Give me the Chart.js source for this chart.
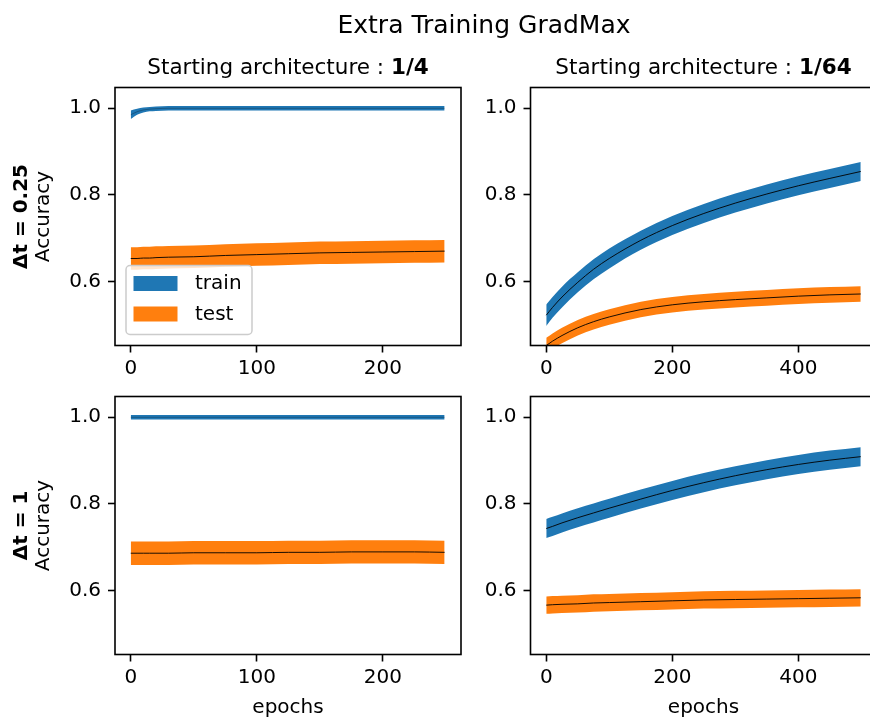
<!DOCTYPE html>
<html><head><meta charset="utf-8">
<script src="https://cdn.jsdelivr.net/npm/chart.js@4.4.0/dist/chart.umd.min.js"></script>
<style>
html,body{margin:0;padding:0;background:#fff;overflow:hidden;width:870px;height:719px;}
#wrap{position:relative;width:870px;height:719px;overflow:hidden;background:#fff;}
#wrap canvas{position:absolute;left:0;top:0;}
</style></head><body>
<div id="wrap">
<canvas id="c0" width="890" height="719"></canvas>
<canvas id="c1" width="890" height="719"></canvas>
<canvas id="c2" width="890" height="719"></canvas>
<canvas id="c3" width="890" height="719"></canvas>
</div>
<script>
// ---------- data ----------
const figureTitle = 'Extra Training GradMax';
const seriesNames = ['train', 'test'];
const columnTitlePrefix = 'Starting architecture : ';
const columnTitles = ['1/4', '1/64'];
const rowLabels = ['\u0394t = 0.25', '\u0394t = 1'];
const yAxisLabel = 'Accuracy';
const xAxisLabel = 'epochs';
const yTicks = [0.6, 0.8, 1.0];
const xTicksLeft = [0, 100, 200];
const xTicksRight = [0, 200, 400];

const epochsLeft  = [0, 5, 10, 15, 20, 30, 50, 75, 100, 125, 150, 175, 200, 225, 249];
const epochsRight = [0, 10, 25, 50, 75, 100, 150, 200, 250, 300, 350, 400, 450, 499];

// row 0 (Δt = 0.25), column 0 (1/4)
const trainMean_a   = [0.985, 0.992, 0.996, 0.998, 0.999, 1.0, 1.0, 1.0, 1.0, 1.0, 1.0, 1.0, 1.0, 1.0, 1.0];
const trainSpread_a = [0.010, 0.007, 0.006, 0.005, 0.005, 0.005, 0.005, 0.005, 0.005, 0.005, 0.005, 0.005, 0.005, 0.005, 0.005];
const testMean_a    = [0.653, 0.653, 0.654, 0.654, 0.655, 0.656, 0.657, 0.660, 0.662, 0.664, 0.666, 0.667, 0.668, 0.669, 0.670];
const testSpread_a  = [0.026, 0.026, 0.026, 0.026, 0.026, 0.026, 0.026, 0.026, 0.026, 0.026, 0.026, 0.026, 0.026, 0.026, 0.026];

// row 0 (Δt = 0.25), column 1 (1/64)
const trainMean_b   = [0.522, 0.540, 0.564, 0.598, 0.628, 0.653, 0.695, 0.729, 0.757, 0.781, 0.802, 0.821, 0.838, 0.854];
const trainSpread_b = [0.025, 0.024, 0.024, 0.023, 0.023, 0.023, 0.022, 0.022, 0.022, 0.022, 0.022, 0.022, 0.022, 0.022];
const testMean_b    = [0.452, 0.462, 0.475, 0.493, 0.507, 0.518, 0.535, 0.546, 0.553, 0.558, 0.562, 0.566, 0.569, 0.571];
const testSpread_b  = [0.018, 0.018, 0.018, 0.018, 0.018, 0.018, 0.018, 0.018, 0.018, 0.018, 0.018, 0.018, 0.018, 0.018];

// row 1 (Δt = 1), column 0 (1/4)
const trainMean_c   = [1.0, 1.0, 1.0, 1.0, 1.0, 1.0, 1.0, 1.0, 1.0, 1.0, 1.0, 1.0, 1.0, 1.0, 1.0];
const trainSpread_c = [0.005, 0.005, 0.005, 0.005, 0.005, 0.005, 0.005, 0.005, 0.005, 0.005, 0.005, 0.005, 0.005, 0.005, 0.005];
const testMean_c    = [0.686, 0.686, 0.686, 0.686, 0.686, 0.686, 0.687, 0.687, 0.687, 0.688, 0.688, 0.689, 0.689, 0.689, 0.688];
const testSpread_c  = [0.027, 0.027, 0.027, 0.027, 0.027, 0.027, 0.027, 0.027, 0.027, 0.027, 0.027, 0.027, 0.027, 0.027, 0.027];

// row 1 (Δt = 1), column 1 (1/64)
const trainMean_d   = [0.743, 0.748, 0.756, 0.768, 0.779, 0.790, 0.811, 0.831, 0.849, 0.865, 0.879, 0.891, 0.901, 0.909];
const trainSpread_d = [0.022, 0.022, 0.022, 0.022, 0.022, 0.022, 0.022, 0.022, 0.022, 0.022, 0.022, 0.022, 0.022, 0.022];
const testMean_d    = [0.566, 0.567, 0.568, 0.569, 0.571, 0.572, 0.574, 0.576, 0.578, 0.579, 0.580, 0.581, 0.582, 0.583];
const testSpread_d  = [0.020, 0.020, 0.020, 0.020, 0.020, 0.020, 0.020, 0.020, 0.020, 0.020, 0.020, 0.020, 0.020, 0.020];

// ---------- styling / layout ----------
const FONT = '"DejaVu Sans", "Liberation Sans", sans-serif';
const BLUE = '#1f77b4', ORANGE = '#ff7f0e';
const CW = 890, CH = 719;
const Y_W = 60, X_H = 40;

const panels = [
  { row: 0, col: 0, epochs: epochsLeft,  xTicks: xTicksLeft,  xMin: -12.5, xMax: 262,
    train: [trainMean_a, trainSpread_a], test: [testMean_a, testSpread_a], box: [115, 461, 87.5, 345.5], trainLine: 'rgba(0,0,0,0.3)' },
  { row: 0, col: 1, epochs: epochsRight, xTicks: xTicksRight, xMin: -25, xMax: 524,
    train: [trainMean_b, trainSpread_b], test: [testMean_b, testSpread_b], box: [530.5, 876.5, 87.5, 345.5], trainLine: '#000' },
  { row: 1, col: 0, epochs: epochsLeft,  xTicks: xTicksLeft,  xMin: -12.5, xMax: 262,
    train: [trainMean_c, trainSpread_c], test: [testMean_c, testSpread_c], box: [115, 461, 396.5, 654.5], trainLine: 'rgba(0,0,0,0.3)' },
  { row: 1, col: 1, epochs: epochsRight, xTicks: xTicksRight, xMin: -25, xMax: 524,
    train: [trainMean_d, trainSpread_d], test: [testMean_d, testSpread_d], box: [530.5, 876.5, 396.5, 654.5], trainLine: '#000' }
];

function pts(xs, ys, f) { return xs.map((x, i) => ({ x: x, y: f(ys[i], i) })); }

function bandDatasets(xs, mean, spread, name, color, lineColor) {
  return [
    { label: name + ' low', data: pts(xs, mean, (m, i) => m - spread[i]), borderWidth: 0, pointRadius: 0,
      fill: false, cubicInterpolationMode: 'monotone', order: 2 },
    { label: name, data: pts(xs, mean, (m, i) => m + spread[i]), borderWidth: 0, pointRadius: 0,
      fill: '-1', backgroundColor: color, cubicInterpolationMode: 'monotone', order: 2 },
    { label: name + ' mean', data: pts(xs, mean, m => m), borderColor: lineColor, borderWidth: 0.9, pointRadius: 0,
      fill: false, cubicInterpolationMode: 'monotone', order: 0 }
  ];
}

function drawRotated(ctx, text, x, y, font) {
  ctx.save();
  ctx.translate(x, y);
  ctx.rotate(-Math.PI / 2);
  ctx.font = font;
  ctx.textAlign = 'center';
  ctx.textBaseline = 'middle';
  ctx.fillText(text, 0, 0);
  ctx.restore();
}

function decorPlugin(p) {
  return {
    id: 'decor',
    afterDraw(chart) {
      const ctx = chart.ctx, a = chart.chartArea;
      ctx.save();
      ctx.strokeStyle = '#000';
      ctx.lineWidth = 1.6;
      ctx.strokeRect(a.left, a.top, a.right - a.left, a.bottom - a.top);
      ctx.fillStyle = '#000';
      const cx = (a.left + a.right) / 2, cy = (a.top + a.bottom) / 2;
      if (p.row === 0) {
        const f1 = '21.5px ' + FONT, f2 = 'bold 21.5px ' + FONT;
        ctx.font = f1; const w1 = ctx.measureText(columnTitlePrefix).width;
        ctx.font = f2; const w2 = ctx.measureText(columnTitles[p.col]).width;
        const sx = cx - (w1 + w2) / 2;
        ctx.textAlign = 'left'; ctx.textBaseline = 'alphabetic';
        ctx.font = f1; ctx.fillText(columnTitlePrefix, sx, a.top - 13.5);
        ctx.font = f2; ctx.fillText(columnTitles[p.col], sx + w1, a.top - 13.5);
      }
      if (p.col === 0) {
        drawRotated(ctx, rowLabels[p.row], 22, cy, 'bold 20px ' + FONT);
        drawRotated(ctx, yAxisLabel, 44, cy, '20px ' + FONT);
      }
      if (p.row === 1) {
        ctx.font = '20px ' + FONT;
        ctx.textAlign = 'center'; ctx.textBaseline = 'middle';
        ctx.fillText(xAxisLabel, cx, a.bottom + 53);
      }
      if (p.row === 0 && p.col === 0) {
        ctx.font = '25px ' + FONT;
        ctx.textAlign = 'center'; ctx.textBaseline = 'alphabetic';
        ctx.fillText(figureTitle, 484, 33);

        const lw = 126, lh = 69, lx = a.left + 11, ly = a.bottom - 11 - lh;
        ctx.fillStyle = 'rgba(255,255,255,0.8)';
        ctx.strokeStyle = '#cccccc';
        ctx.lineWidth = 1.5;
        ctx.beginPath();
        ctx.roundRect(lx, ly, lw, lh, 4);
        ctx.fill(); ctx.stroke();
        const colors = [BLUE, ORANGE];
        seriesNames.forEach((n, i) => {
          const py = ly + 10.5 + i * 30.5;
          ctx.fillStyle = colors[i];
          ctx.fillRect(lx + 7.5, py, 44, 15);
          ctx.fillStyle = '#000';
          ctx.font = '20px ' + FONT;
          ctx.textAlign = 'left'; ctx.textBaseline = 'middle';
          ctx.fillText(n, lx + 69, py + 8);
        });
      }
      ctx.restore();
    }
  };
}

panels.forEach((p, k) => {
  const [L, R, T, B] = p.box;
  const datasets = [].concat(
    bandDatasets(p.epochs, p.train[0], p.train[1], seriesNames[0], BLUE, p.trainLine),
    bandDatasets(p.epochs, p.test[0], p.test[1], seriesNames[1], ORANGE, '#000')
  );
  new Chart(document.getElementById('c' + k), {
    type: 'line',
    data: { datasets: datasets },
    options: {
      responsive: false,
      animation: false,
      devicePixelRatio: 1,
      clip: true,
      layout: { padding: { left: L - Y_W, right: CW - R, top: T, bottom: CH - B - X_H } },
      plugins: { legend: { display: false }, tooltip: { enabled: false }, title: { display: false } },
      elements: { point: { radius: 0 } },
      scales: {
        x: {
          type: 'linear', min: p.xMin, max: p.xMax,
          afterBuildTicks: s => { s.ticks = p.xTicks.map(v => ({ value: v })); },
          afterFit: s => { s.height = X_H; },
          border: { display: false },
          grid: { display: true, drawOnChartArea: false, drawTicks: true, tickLength: 7, tickWidth: 1.6, tickColor: '#000' },
          ticks: { autoSkip: false, maxRotation: 0, minRotation: 0, padding: 4, color: '#000',
                   font: { family: FONT, size: 20 }, callback: v => String(v) }
        },
        y: {
          type: 'linear', min: 0.452, max: 1.048,
          afterBuildTicks: s => { s.ticks = yTicks.map(v => ({ value: v })); },
          afterFit: s => { s.width = Y_W; },
          border: { display: false },
          grid: { display: true, drawOnChartArea: false, drawTicks: true, tickLength: 7, tickWidth: 1.6, tickColor: '#000' },
          ticks: { autoSkip: false, padding: 7, color: '#000',
                   font: { family: FONT, size: 20 }, callback: v => v.toFixed(1) }
        }
      }
    },
    plugins: [decorPlugin(p)]
  });
});
</script>
</body></html>
